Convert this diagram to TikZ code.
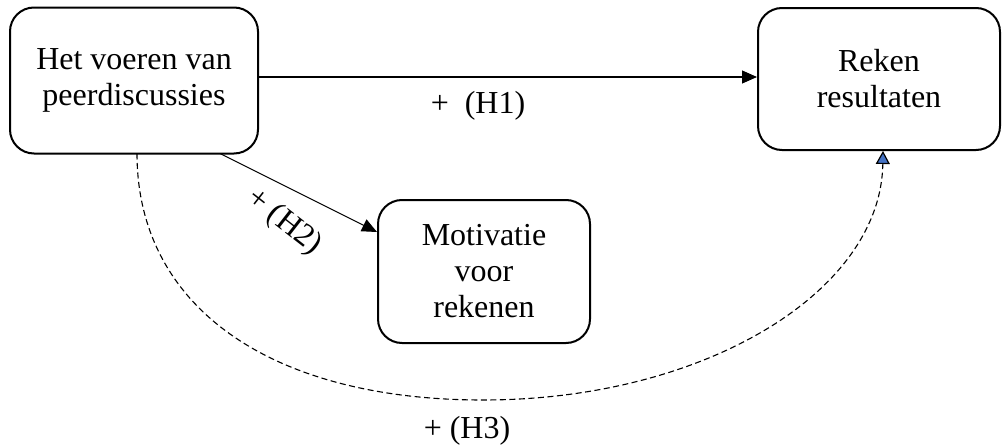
\documentclass[tikz,border=0pt]{standalone}
\usepackage{fontspec}
\setmainfont{Liberation Serif}
\usetikzlibrary{arrows.meta}
\definecolor{tipblue}{HTML}{4472C4}
\begin{document}
\begin{tikzpicture}[x=1pt,y=-1pt,
  box/.style={draw,line width=2pt,rounded corners=24pt,align=center,
    font=\fontsize{32}{36}\selectfont,inner sep=0pt},
  conn/.style={line width=1.1pt,-{Triangle[length=15pt,width=13pt]}},
  lab/.style={font=\fontsize{32}{36}\selectfont,inner sep=0pt}]
\useasboundingbox (0,0) rectangle (1004,447);
\node[box,minimum width=248pt,minimum height=146pt] (a) at (134,80.5) {Het voeren van\\peerdiscussies};
\node[box,minimum width=242pt,minimum height=142pt] (b) at (879,79) {Reken\\resultaten};
\node[box,minimum width=212pt,minimum height=143pt] (c) at (484,271.5) {Motivatie\\voor\\rekenen};
\draw[conn] (a.east |- 0,77) -- (b.west |- 0,77);
\node[lab] (h1) at (478,106) {+\ \ (H1)};
\draw[conn] (220,153.5) coordinate (s2) -- (c.west |- 0,232);
\node[lab,rotate=-38] (h2) at (284,222) {+ (H2)};
\coordinate (s3) at (137,153.5);
\coordinate (m3) at (483,400);
\coordinate (e3) at (883,151);
\draw[line width=1.1pt,dash pattern=on 6pt off 3.5pt,
  -{Triangle[length=13pt,width=14pt,fill=tipblue,line width=1.2pt]}]
  (s3) .. controls (137,305) and (268,400) .. (m3)
       .. controls (704,400) and (881,292) .. (e3);
\node[lab] (h3) at (467,431) {+ (H3)};
\end{tikzpicture}
\end{document}
